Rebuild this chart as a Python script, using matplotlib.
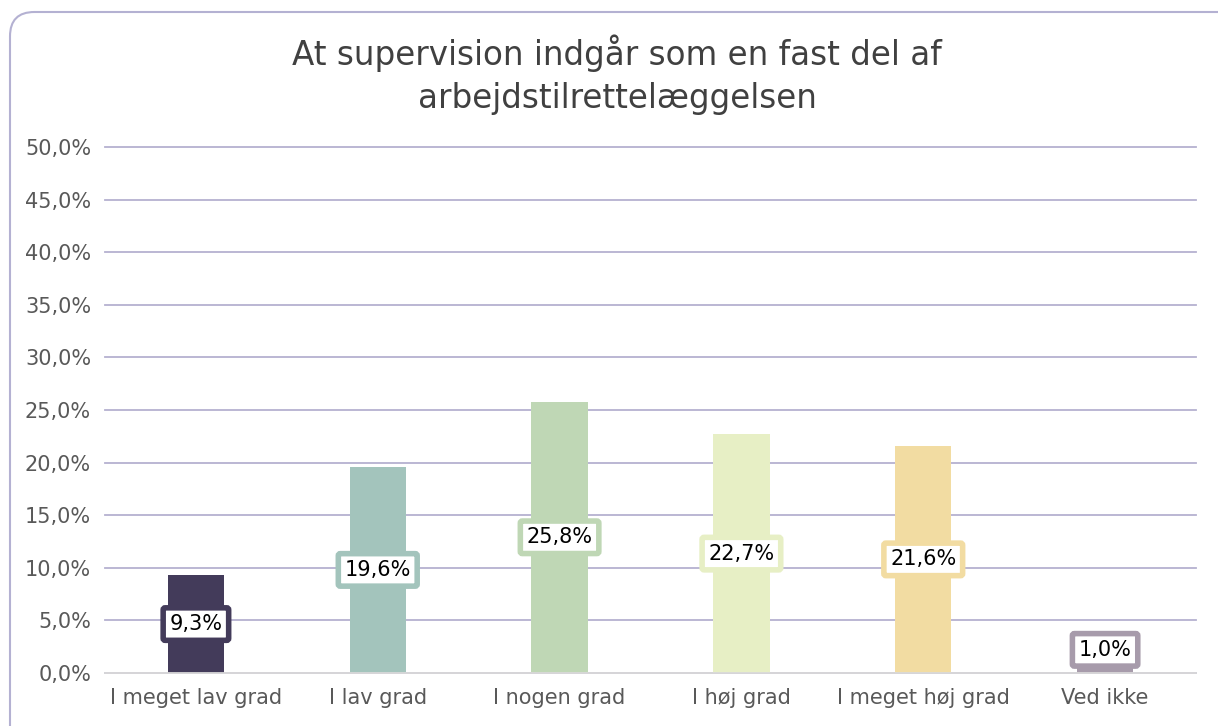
import matplotlib
matplotlib.use("Agg")
import matplotlib.pyplot as plt
from matplotlib.patches import FancyBboxPatch
from matplotlib.ticker import FuncFormatter, MultipleLocator

categories = ["I meget lav grad", "I lav grad", "I nogen grad", "I høj grad", "I meget høj grad", "Ved ikke"]
values = [9.3, 19.6, 25.8, 22.7, 21.6, 1.0]
colors = ["#433b5a", "#a3c4bc", "#bfd7b5", "#e7efc5", "#f2dca2", "#a79bab"]
title = "At supervision indgår som en fast del af\narbejdstilrettelæggelsen"

plt.rcParams['font.family'] = ['DejaVu Sans']
fig = plt.figure(figsize=(12.18, 7.26), dpi=100)
ax = fig.add_axes([105/1218, 1 - 673/726, (1196-105)/1218, (673-147)/726])

# chart border
border = FancyBboxPatch((10/1218, -0.2), 1.2, 1.2 - 12/726, transform=fig.transFigure,
                        boxstyle="round,pad=0,rounding_size=0.02", fill=False,
                        edgecolor="#b4b1d2", linewidth=1.5, mutation_aspect=1218/726)
fig.patches.append(border)

x = list(range(len(categories)))
ax.bar(x, values, width=0.31, color=colors, zorder=2)
ax.set_xlim(-0.5, len(categories) - 0.5)
ax.set_ylim(0, 50)
ax.yaxis.set_major_locator(MultipleLocator(5))
ax.yaxis.set_major_formatter(FuncFormatter(lambda v, p: f"{v:.1f}%".replace(".", ",")))
ax.grid(axis="y", color="#b5b1d0", linewidth=1.3, zorder=0)
for gl in ax.get_ygridlines():
    gl.set_clip_on(False)
ax.set_axisbelow(True)
for s in ["top", "right", "left"]:
    ax.spines[s].set_visible(False)
ax.spines["bottom"].set_color("#d9d9d9")
ax.spines["bottom"].set_linewidth(1.3)
ax.spines["bottom"].set_zorder(3)
ax.tick_params(axis="both", length=0, labelsize=15, colors="#595959", pad=10)
ax.tick_params(axis="y", pad=10)
ax.tick_params(axis="x", pad=11)
ax.set_xticks(x)
ax.set_xticklabels(categories)

for xi, v, c in zip(x, values, colors):
    ypos = max(v / 2, 2.2)
    ax.text(xi, ypos, f"{v:.1f}%".replace(".", ","), ha="center", va="center",
            fontsize=15, color="black", zorder=4,
            bbox=dict(boxstyle="round,pad=0.3,rounding_size=0.1", facecolor="white",
                      edgecolor=c, linewidth=4))

fig.text(617/1218, 1 - 75/726, title, ha="center", va="center", fontsize=23.5,
         color="#404040", linespacing=1.4)

fig.savefig("out.png", dpi=100)
